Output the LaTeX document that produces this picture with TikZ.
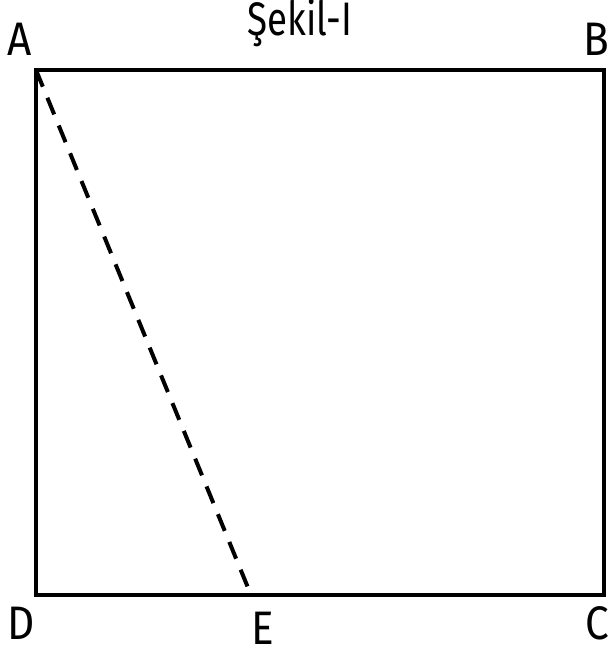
\documentclass[tikz,border=0pt]{standalone}
\usepackage{fontspec}
\setmainfont{Fira Sans}
\usetikzlibrary{positioning}
\tikzstyle{edge} = [line width=4.5pt, line join=miter]
\tikzstyle{cut} = [line width=4pt, dash pattern=on 18pt off 12pt]
\tikzstyle{letter} = [font=\fontsize{47}{50}\selectfont, inner sep=0pt, anchor=base]

\begin{document}
\begin{tikzpicture}[x=1pt, y=-1pt]
\useasboundingbox (0,0) rectangle (609,653);

\coordinate (A) at (36,70);
\coordinate (B) at (604,70);
\coordinate (C) at (604,595);
\coordinate (D) at (36,595);
\coordinate (E) at (251,595);

\node (title) [letter, font=\fontsize{47}{50}\selectfont] at (300,35) {\scalebox{0.78}[1]{Şekil-I}};
\node (labA) [letter] at (20,55) {\scalebox{0.9}[1]{A}};
\node (labB) [letter] at (596,55) {\scalebox{0.9}[1]{B}};
\node (labC) [letter] at (597,639) {\scalebox{0.9}[1]{C}};
\node (labD) [letter] at (21,639) {\scalebox{0.9}[1]{D}};
\node (labE) [letter] at (263,644) {\scalebox{0.9}[1]{E}};

\draw [edge] (A) -- (B) -- (C) -- (D) -- cycle;
\draw [cut] (A) -- (E);

\end{tikzpicture}
\end{document}
